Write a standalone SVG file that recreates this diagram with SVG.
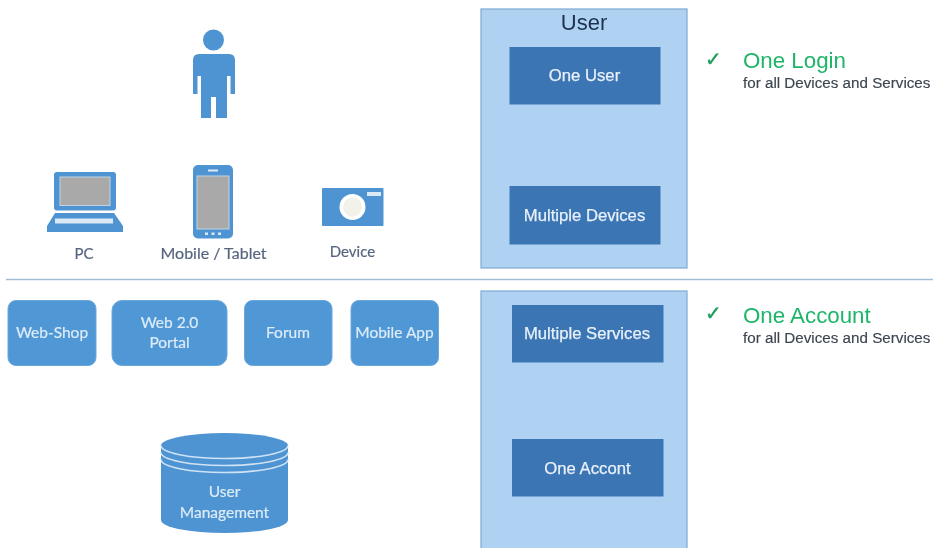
<svg xmlns="http://www.w3.org/2000/svg" width="933" height="548" viewBox="0 0 933 548">
<style>
.ic{fill:#4f94d2}
.gr{fill:#a9a9a9;stroke:#c3d3e2;stroke-width:1}
.lt{fill:#dbe8f5}
.pn{fill:#afd2f3;stroke:#7fa8d2;stroke-width:1.2}
.bx{fill:#3a74b4}
.rb{fill:#5097d5;stroke:#6aa7dd;stroke-width:1}
.cap{font-family:"Lato","Open Sans",sans-serif;font-size:15px;fill:#56667f;stroke:#56667f;stroke-width:.2;text-anchor:middle}
.lb{font-family:"Lato","Open Sans",sans-serif;font-size:15.5px;fill:#dcebf8;stroke:#dcebf8;stroke-width:.2;text-anchor:middle}
.bt{font-family:"Liberation Sans",Arial,sans-serif;font-size:16.7px;fill:#e8f1fa;stroke:#e8f1fa;stroke-width:.25;text-anchor:middle}
.hd{font-family:"Liberation Sans",Arial,sans-serif;font-size:22.300px;fill:#1fb56a}
.sb{font-family:"Liberation Sans",Arial,sans-serif;font-size:15.2px;fill:#3c4450;stroke:#3c4450;stroke-width:.15}
.ck{font-family:"DejaVu Sans",sans-serif;font-size:20px;fill:#1f9e5c;stroke:#1f9e5c;stroke-width:.4}
</style>
<defs><filter id="soft" x="-2%" y="-2%" width="104%" height="104%"><feGaussianBlur stdDeviation="0.45"/></filter></defs>
<rect width="933" height="548" fill="#fff"/>
<g filter="url(#soft)">
<g id="connectors"><line x1="6" y1="279.5" x2="933" y2="279.5" stroke="#a3bdd6" stroke-width="1.5"/></g>

<g id="person">
<circle class="ic" cx="213.500" cy="40" r="10.500"/>
<path class="ic" d="M199 54H229Q235 54 235 60V94H230.500V76H227V118H216V97H211V118H201V76H197.500V94H193V60Q193 54 199 54Z"/>
</g>
<g id="pc">
<rect class="ic" x="54" y="172" width="62" height="38.500" rx="3"/>
<rect class="gr" x="60" y="177" width="50" height="28.500"/>
<path class="ic" d="M55 213H114L123 226V232H47V226Z"/>
<rect class="lt" x="55" y="218.500" width="58" height="5"/>
<text class="cap" x="84" y="259">PC</text>
</g>
<g id="mobile">
<rect class="ic" x="193" y="165" width="40" height="73.500" rx="5"/>
<rect class="gr" x="197" y="176" width="32" height="53"/>
<rect class="lt" x="208" y="169.500" width="10" height="2"/>
<rect class="lt" x="205" y="232.500" width="3" height="2.500"/><rect class="lt" x="211.500" y="232.500" width="3" height="2.500"/><rect class="lt" x="218" y="232.500" width="3" height="2.500"/>
<text class="cap" x="213.500" y="258.500" style="font-size:16px">Mobile / Tablet</text>
</g>
<g id="device">
<rect class="ic" x="322" y="188" width="61.500" height="38" rx="1"/>
<circle cx="352.500" cy="207" r="13" fill="#fff"/>
<circle cx="352.500" cy="207" r="9.500" fill="#f2f2ea"/>
<rect class="lt" x="367" y="192" width="14" height="4"/>
<text class="cap" x="352.500" y="257">Device</text>
</g>

<g id="web-shop"><rect class="rb" x="8" y="300.500" width="88" height="65" rx="8"/><text class="lb" x="52" y="338">Web-Shop</text></g>
<g id="web-portal"><rect class="rb" x="112" y="300.500" width="115" height="65" rx="10"/><text class="lb" x="169.500" y="327.500">Web 2.0</text><text class="lb" x="169.500" y="348">Portal</text></g>
<g id="forum"><rect class="rb" x="244.500" y="300.500" width="87.500" height="65" rx="8"/><text class="lb" x="288" y="338">Forum</text></g>
<g id="mobile-app"><rect class="rb" x="351" y="300.500" width="87.500" height="65" rx="8"/><text class="lb" x="394.500" y="338">Mobile App</text></g>

<g id="user-management">
<path class="ic" d="M161 445.500A63.500 12.500 0 0 1 288 445.500V520A63.500 13 0 0 1 161 520Z"/>
<path d="M161 445.500A63.500 13 0 0 0 288 445.500M161 452.500A63.500 13 0 0 0 288 452.500M161 459.500A63.500 13 0 0 0 288 459.500" fill="none" stroke="#cfe3f5" stroke-width="1.600"/>
<text class="lb" x="224.500" y="497">User</text>
<text class="lb" x="224.500" y="518">Management</text>
</g>

<g id="user-panel">
<rect class="pn" x="481" y="9" width="206" height="259"/>
<text x="584" y="30" font-family="Liberation Sans,Arial,sans-serif" font-size="22" fill="#1e3350" text-anchor="middle">User</text>
</g>
<g id="one-user"><rect class="bx" x="509.500" y="47" width="151" height="57.500"/><text class="bt" x="584.500" y="80.500">One User</text></g>
<g id="multiple-devices"><rect class="bx" x="509.500" y="186" width="151" height="58.500"/><text class="bt" x="584.500" y="221">Multiple Devices</text></g>

<g id="account-panel"><rect class="pn" x="481" y="291" width="206" height="265"/></g>
<g id="multiple-services"><rect class="bx" x="512" y="305" width="151.500" height="57.500"/><text class="bt" x="587" y="339">Multiple Services</text></g>
<g id="one-account"><rect class="bx" x="512" y="439" width="151.500" height="57.500"/><text class="bt" x="587.500" y="474">One Accont</text></g>

<g id="note-login">
<text class="ck" x="705" y="66">✓</text>
<text class="hd" x="743" y="68">One Login</text>
<text class="sb" x="743" y="88">for all Devices and Services</text>
</g>
<g id="note-account">
<text class="ck" x="705" y="320">✓</text>
<text class="hd" x="743" y="323">One Account</text>
<text class="sb" x="743" y="343">for all Devices and Services</text>
</g>
</g>
</svg>
